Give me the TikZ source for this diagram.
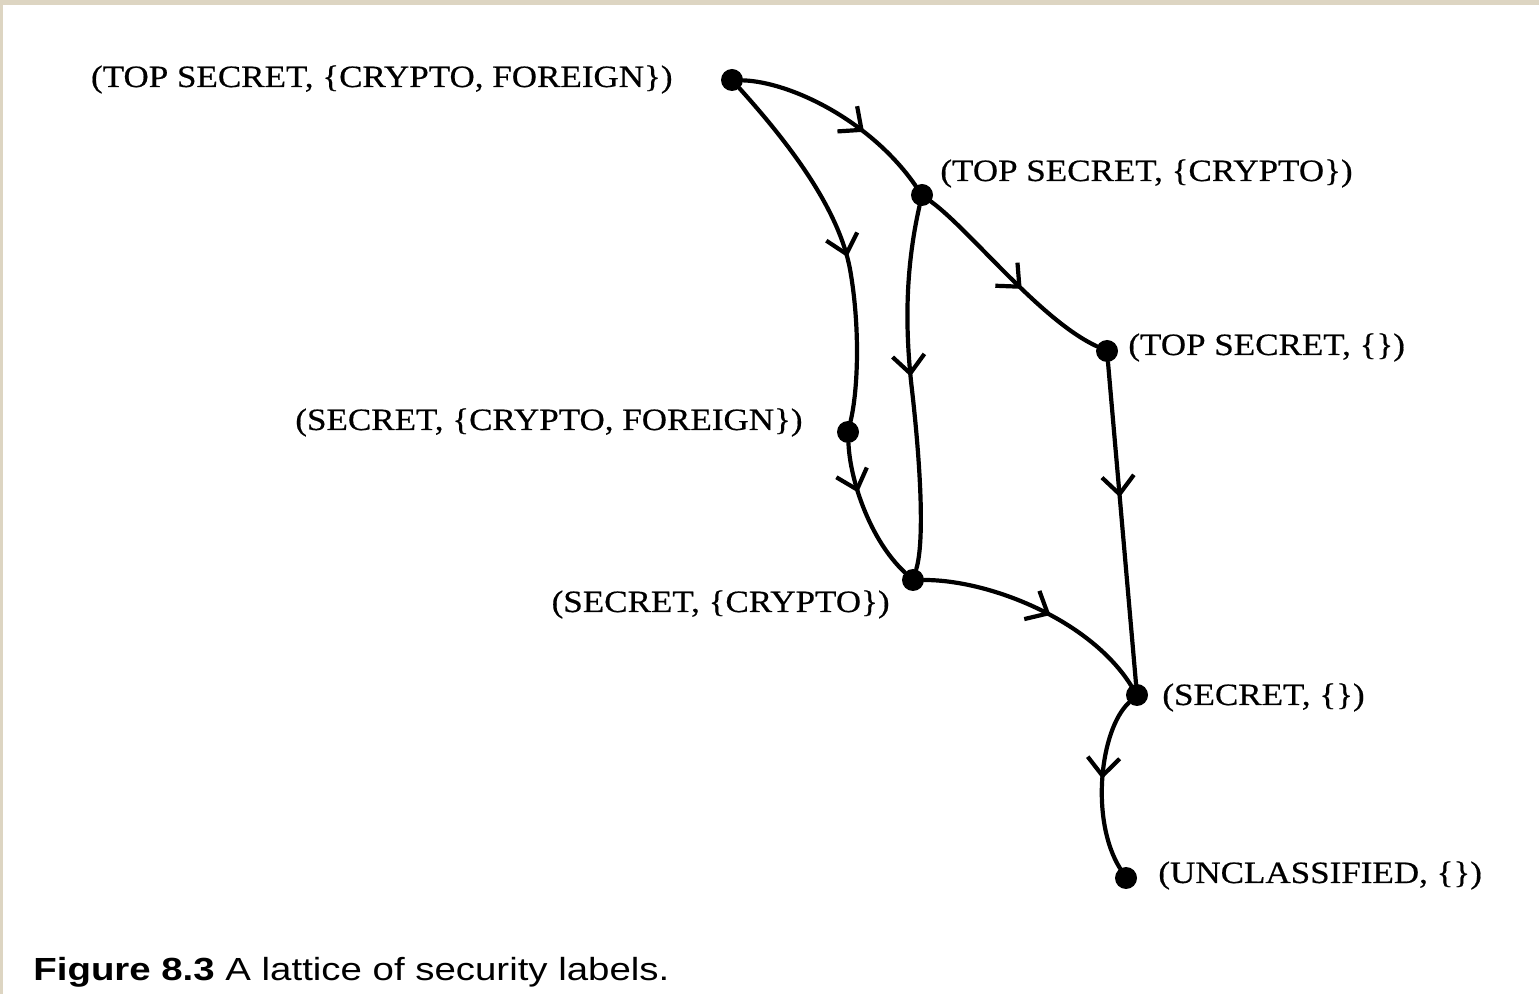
\documentclass[tikz,border=0pt]{standalone}
\usepackage{fontspec}
\usetikzlibrary{arrows.meta,decorations.markings}
\newfontfamily\labfont[FakeStretch=1.13,FakeBold=0.5]{Liberation Serif}
\newfontfamily\capfont[FakeStretch=1.2]{Liberation Sans}
\definecolor{frame}{HTML}{DDD5C2}
\tikzset{
  dot/.style={circle,fill=black,inner sep=0pt,minimum size=11pt},
  lab/.style={inner sep=0pt,font=\labfont\fontsize{15.5pt}{18pt}\selectfont},
  edge/.style={line width=2.1pt,line cap=round},
  midarrow/.style={postaction={decorate,decoration={markings,
    mark=at position #1 with {\arrow{Straight Barb[length=9pt,width=16pt,line width=2.1pt]}}}}}
}
\begin{document}
\begin{tikzpicture}[x=0.5pt,y=-0.5pt]
\useasboundingbox (0,0) rectangle (1539,994);
\fill[white] (0,0) rectangle (1539,994);
\fill[frame] (0,0) rectangle (1539,5);
\fill[frame] (0,0) rectangle (3,994);

% dots
\node[dot] (tscf) at (732,80) {};
\node[dot] (tsc)  at (922,195) {};
\node[dot] (ts)   at (1107,351) {};
\node[dot] (scf)  at (848,432) {};
\node[dot] (sc)   at (913,580) {};
\node[dot] (s)    at (1137,695) {};
\node[dot] (u)    at (1126,878) {};

% labels
\node[lab,anchor=base east] (ltscf) at (673,87) {(TOP SECRET, \{CRYPTO, FOREIGN\})};
\node[lab,anchor=base west] (ltsc)  at (940,181) {(TOP SECRET, \{CRYPTO\})};
\node[lab,anchor=base west] (lts)   at (1128,355) {(TOP SECRET, \{\})};
\node[lab,anchor=base east] (lscf)  at (803,430) {(SECRET, \{CRYPTO, FOREIGN\})};
\node[lab,anchor=base east] (lsc)   at (890,612) {(SECRET, \{CRYPTO\})};
\node[lab,anchor=base west] (ls)    at (1162,705) {(SECRET, \{\})};
\node[lab,anchor=base west] (lu)    at (1158,883) {(UNCLASSIFIED, \{\})};

% connectors
\draw[edge,midarrow=0.64] (tscf) .. controls (790,82) and (870,120) .. (tsc);
\draw[edge,midarrow=0.55] (tscf) .. controls (795,150) and (842,215) .. (851,275)
      .. controls (860,330) and (858,390) .. (scf);
\draw[edge,midarrow=0.57] (tsc) .. controls (970,230) and (1040,320) .. (ts);
\draw[edge,midarrow=0.47] (tsc) .. controls (905,270) and (905,330) .. (912,390)
      .. controls (920,460) and (925,540) .. (sc);
\draw[edge,midarrow=0.35] (scf) .. controls (850,480) and (870,540) .. (sc);
\draw[edge,midarrow=0.42] (ts) -- (s);
\draw[edge,midarrow=0.55] (sc) .. controls (990,580) and (1090,620) .. (s);
\draw[edge,midarrow=0.47] (s) .. controls (1100,730) and (1090,820) .. (u);

% caption
\node[inner sep=0pt,anchor=base west,font=\capfont\fontsize{16pt}{19pt}\selectfont] (cap) at (33,980)
  {\textbf{Figure 8.3} A lattice of security labels.};
\end{tikzpicture}
\end{document}
